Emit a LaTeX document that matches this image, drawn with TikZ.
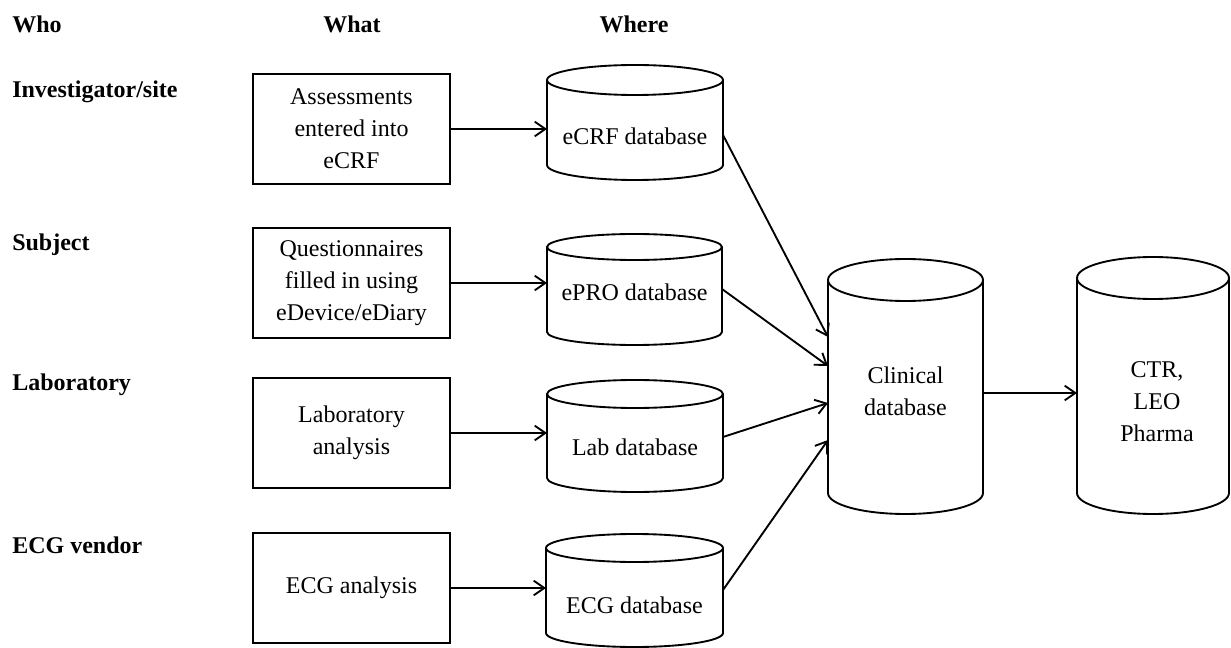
\documentclass[tikz,border=0pt]{standalone}
\usepackage{fontspec}
\setmainfont{Liberation Serif}
\usetikzlibrary{arrows.meta}
\tikzset{
  outline/.style={line width=1.4pt},
  txt/.style={align=center, inner sep=0pt, font=\fontsize{18}{24}\selectfont},
  hdr/.style={inner sep=0pt, font=\fontsize{18}{24}\selectfont\bfseries},
  proc/.style={draw, outline, align=center, inner sep=0pt,
    minimum width=147.75pt, minimum height=82.5pt, font=\fontsize{18}{24}\selectfont},
  dbarea/.style={inner sep=0pt, outer sep=0pt},
  arr/.style={line width=1.4pt, -{Straight Barb[length=8pt,width=11pt,line width=1.4pt]}}
}
\newcommand\dbshape[5]{%
  \draw[outline] (#1,#2+#5) -- (#1,#4-#5)
     arc[start angle=180,end angle=0,x radius={(#3-#1)/2},y radius=#5] -- (#3,#2+#5);
  \draw[outline] ({(#1+#3)/2},#2+#5) ellipse[x radius={(#3-#1)/2},y radius=#5];
}
\newcommand\dbnode[9]{%
  \node[dbarea, minimum width={(#4-#2)*0.75pt}, minimum height={(#5-#3)*0.75pt}]
     (#1) at ({(#2+#4)/2},{(#3+#5)/2}) {};
  \dbshape{#2}{#3}{#4}{#5}{#6}
  \node[txt] (#1-label) at (#7,#8) {#9};
}
\begin{document}
\begin{tikzpicture}[x=0.75pt,y=-0.75pt]
\useasboundingbox (0,0) rectangle (1231,648);

% headers
\node[hdr, anchor=west] (who) at (12,24) {Who};
\node[hdr] (what) at (352,24) {What};
\node[hdr] (where) at (634,24) {Where};

% who labels
\node[hdr, anchor=west] (w1) at (12,92) {Investigator/site};
\node[hdr, anchor=west] (w2) at (12,245) {Subject};
\node[hdr, anchor=west] (w3) at (12,385) {Laboratory};
\node[hdr, anchor=west] (w4) at (12,545) {ECG vendor};

% what boxes
\node[proc] (b1) at (351.5,129) {Assessments\\entered into\\eCRF};
\node[proc] (b2) at (351.5,283) {Questionnaires\\filled in using\\eDevice/eDiary};
\node[proc] (b3) at (351.5,433) {Laboratory\\analysis};
\node[proc] (b4) at (351.5,588) {ECG analysis};

% where cylinders
\dbnode{c1}{547}{65}{723}{180}{15}{635}{136}{eCRF database}
\dbnode{c2}{547}{234}{722}{345}{13}{634.5}{292}{ePRO database}
\dbnode{c3}{547}{380}{723}{492}{14}{635}{447}{Lab database}
\dbnode{c4}{546}{534}{723}{647}{14}{634.5}{605}{ECG database}
\dbnode{cl}{828}{259}{983}{514}{21}{905.5}{391.5}{Clinical\\database}
\dbnode{ctr}{1077}{257}{1229}{514}{21}{1157}{402}{CTR,\\LEO\\Pharma}

% arrows
\draw[arr] (b1.east) -- (b1.east -| c1.west);
\draw[arr] (b2.east) -- (b2.east -| c2.west);
\draw[arr] (b3.east) -- (b3.east -| c3.west);
\draw[arr] (b4.east) -- (b4.east -| c4.west);

\draw[arr] (c1.east |- 0,135) -- (cl.west |- 0,337);
\draw[arr] (c2.east |- 0,289) -- (cl.west |- 0,366);
\draw[arr] (c3.east |- 0,437) -- (cl.west |- 0,403);
\draw[arr] (c4.east |- 0,590) -- (cl.west |- 0,440);

\draw[arr] (cl.east |- 0,393) -- (ctr.west |- 0,393);
\end{tikzpicture}
\end{document}
